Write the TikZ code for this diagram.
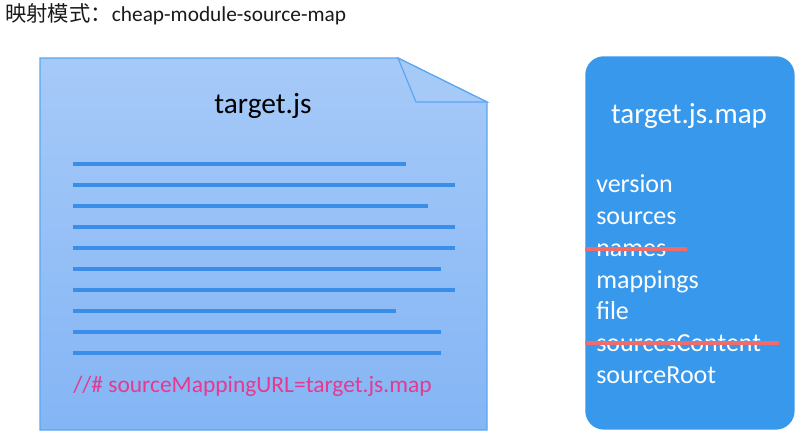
\documentclass[tikz,border=0pt]{standalone}
\usepackage{fontspec}
\setmainfont{Carlito}
\newfontfamily\cjk{Noto Sans CJK SC}
\usepackage{tikz}
\usetikzlibrary{positioning,calc}
\definecolor{pagetop}{HTML}{A6CAF8}
\definecolor{pagebot}{HTML}{84B5F5}
\definecolor{pageedge}{HTML}{5CA6F0}
\definecolor{codeline}{HTML}{3A8EE8}
\definecolor{mapfill}{HTML}{3898EC}
\definecolor{commentpink}{HTML}{E8388F}
\definecolor{strike}{HTML}{F26B6B}
\definecolor{ink}{HTML}{1A1A1A}
\tikzset{
  heading/.style={font=\fontsize{16}{19}\selectfont,text=ink,inner sep=0pt,anchor=base west},
  pagetitle/.style={font=\fontsize{22}{26}\selectfont,text=black,inner sep=0pt},
  maptitle/.style={font=\fontsize{21.8}{26}\selectfont,text=white,inner sep=0pt},
  field/.style={font=\fontsize{19.5}{23}\selectfont,text=white,inner sep=0pt,anchor=base west},
  comment/.style={font=\fontsize{17.6}{21}\selectfont,text=commentpink,inner sep=0pt,anchor=base west},
  codestroke/.style={draw=codeline,line width=2.3pt},
  strikeout/.style={draw=strike,line width=3pt}
}
\begin{document}
\begin{tikzpicture}[x=0.75pt,y=-0.75pt]
\useasboundingbox (0,0) rectangle (807,440);
\node[heading] (head) at (5,21) {{\cjk 映射模式：}cheap-module-source-map};
% the js file with its folded corner
\path[top color=pagetop,bottom color=pagebot,draw=pageedge,line width=0.9pt]
 (40,58) -- (398,58) -- (487,102) -- (487,430) -- (40,430) -- cycle;
\draw[pageedge,line width=0.9pt,fill=pagetop] (398,58) -- (416,102) -- (487,102) -- cycle;
\node[pagetitle] (jsname) at (263,106) {target.js};
\foreach \y/\xe in {164/406,185/455,206/428,227/455,248/455,269/441,290/455,311/396,332/441,353/441}
  \draw[codestroke] (73,\y) -- (\xe,\y);
\node[comment] (url) at (73,392) {//\# sourceMappingURL=target.js.map};
% the map file
\node[fill=mapfill,rounded corners=14pt,minimum width=157pt,minimum height=280pt,anchor=north west] (mapbox) at (585,56) {};
\node[maptitle] (mapname) at (689,116) {target.js.map};
\node[field] (version) at (596,192) {version};
\node[field] (sources) at (596,224) {sources};
\node[field] (names) at (596,256) {names};
\node[field] (mappings) at (596,288) {mappings};
\node[field] (file) at (596,319) {file};
\node[field] (content) at (596,351) {sourcesContent};
\node[field] (root) at (596,383) {sourceRoot};
\coordinate (namesend) at (687,249);
\coordinate (contentend) at (779,343);
\draw[strikeout] (mapbox.west |- namesend) -- (namesend);
\draw[strikeout] (mapbox.west |- contentend) -- (contentend);
\end{tikzpicture}
\end{document}
